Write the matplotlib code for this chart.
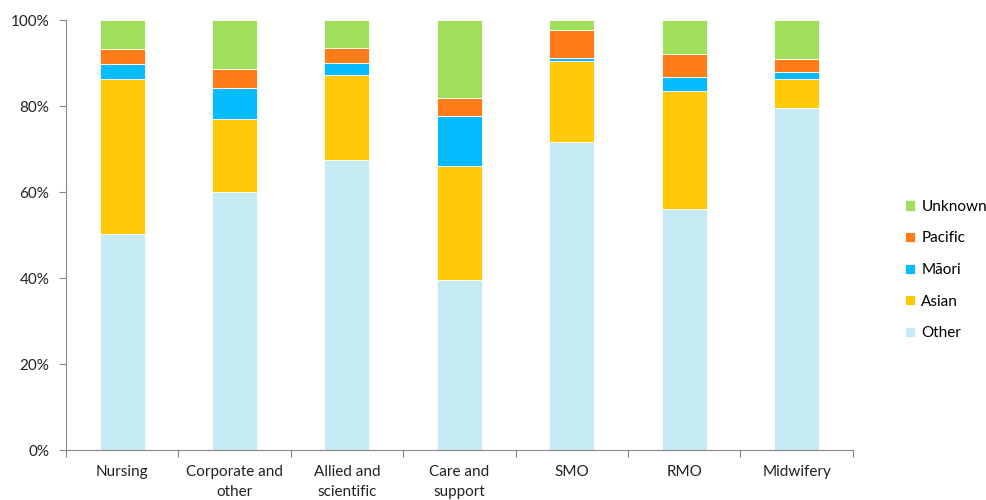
import matplotlib
matplotlib.use("Agg")
import matplotlib.pyplot as plt
import numpy as np
from matplotlib.ticker import FixedLocator, PercentFormatter

plt.rcParams['font.family'] = ['Lato', 'DejaVu Sans']

categories = ["Nursing", "Corporate and\nother", "Allied and\nscientific", "Care and\nsupport",
              "SMO", "RMO", "Midwifery"]
other   = [50.2, 59.9, 67.4, 39.5, 71.7, 56.0, 79.6]
asian   = [36.1, 17.1, 19.7, 26.6, 18.7, 27.6, 6.7]
maori   = [3.4, 7.3, 3.0, 11.6, 0.8, 3.1, 1.7]
pacific = [3.6, 4.3, 3.4, 4.2, 6.5, 5.5, 3.0]
unknown = [6.7, 11.4, 6.5, 18.1, 2.3, 7.8, 9.0]

series = [("Other", other, "#C5EAF4"),
          ("Asian", asian, "#FFC907"),
          ("Māori", maori, "#05BBFF"),
          ("Pacific", pacific, "#FF7B17"),
          ("Unknown", unknown, "#A0DF5C")]

fig = plt.figure(figsize=(9.86, 5.0), dpi=100)
ax = fig.add_axes([0.0669, 0.10, 0.798, 0.86])

x = np.arange(len(categories))
bottom = np.zeros(len(categories))
handles = []
for name, vals, color in series:
    vals = np.array(vals)
    b = ax.bar(x, vals, bottom=bottom, width=0.4, color=color, label=name,
               edgecolor="white", linewidth=0.6)
    handles.append(b)
    bottom += vals

ax.set_xlim(-0.5, len(categories) - 0.5)
ax.set_ylim(0, 100)
ax.yaxis.set_major_locator(FixedLocator([0, 20, 40, 60, 80, 100]))
ax.yaxis.set_major_formatter(PercentFormatter(decimals=0))

ax.set_xticks(x)
ax.set_xticklabels(categories, fontsize=11, color="#222222", linespacing=1.55)
ax.tick_params(axis="x", which="major", length=0, pad=11)
ax.set_xticks(np.arange(-0.5, len(categories)), minor=True)
ax.tick_params(axis="x", which="minor", length=5, color="#888888", width=0.8)
ax.tick_params(axis="y", length=5, color="#888888", width=0.8, labelsize=11,
               labelcolor="#222222", pad=7)

for s in ["top", "right"]:
    ax.spines[s].set_visible(False)
for s in ["left", "bottom"]:
    ax.spines[s].set_color("#888888")
    ax.spines[s].set_linewidth(0.8)

leg = fig.legend(handles[::-1], [s[0] for s in series][::-1],
                 loc="center left", bbox_to_anchor=(0.912, 0.46),
                 frameon=False, fontsize=11, handlelength=0.65, handleheight=0.65,
                 labelspacing=1.15, handletextpad=0.4, borderaxespad=0)

fig.savefig("out.png", dpi=100)
